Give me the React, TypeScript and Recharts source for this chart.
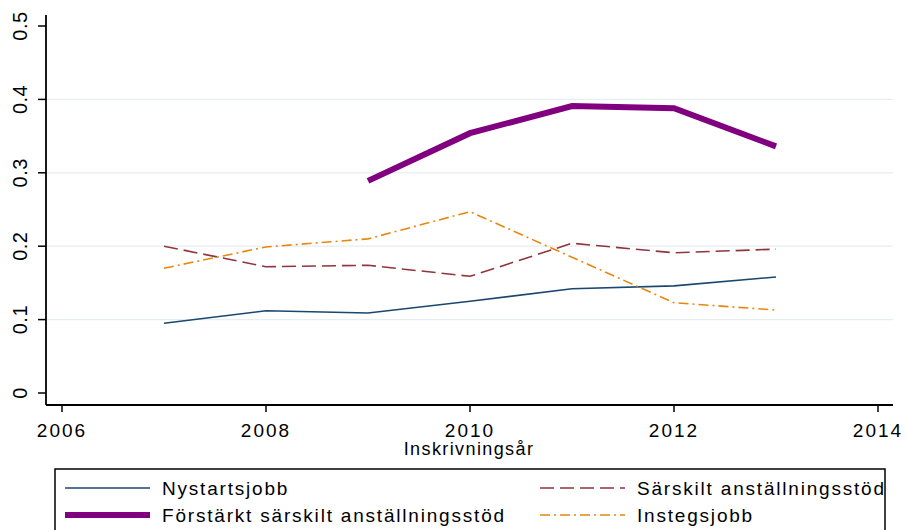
import { LineChart, Line, XAxis, YAxis, ReferenceLine } from 'recharts';

// values
const years = [2007, 2008, 2009, 2010, 2011, 2012, 2013];
const nystartsjobb = [0.095, 0.112, 0.109, 0.125, 0.142, 0.146, 0.158];
const sarskilt = [0.2, 0.172, 0.174, 0.159, 0.204, 0.191, 0.196];
const forstarkt = [null, null, 0.289, 0.354, 0.391, 0.388, 0.336];
const instegsjobb = [0.17, 0.199, 0.21, 0.247, 0.185, 0.123, 0.113];

const xTicks = [2006, 2008, 2010, 2012, 2014];
const yTicks = [0, 0.1, 0.2, 0.3, 0.4, 0.5];
const gridValues = [0.1, 0.2, 0.3, 0.4];

const series = [
  { key: 'nystartsjobb', name: 'Nystartsjobb', color: '#1a476f', width: 1.6, dash: undefined as string | undefined },
  { key: 'sarskilt', name: 'Särskilt anställningsstöd', color: '#90353b', width: 1.6, dash: '14 6' },
  { key: 'forstarkt', name: 'Förstärkt särskilt anställningsstöd', color: '#800080', width: 6, dash: undefined },
  { key: 'instegsjobb', name: 'Instegsjobb', color: '#e8870e', width: 1.6, dash: '10 4 2 4' },
];

const data = years.map((year, i) => ({
  year,
  nystartsjobb: nystartsjobb[i],
  sarskilt: sarskilt[i],
  forstarkt: forstarkt[i],
  instegsjobb: instegsjobb[i],
}));

const FONT = 'Arial, "Liberation Sans", sans-serif';

const YTick = (props: any) => {
  const { y, payload } = props;
  return (
    <text
      transform={`translate(20,${y}) rotate(-90)`}
      textAnchor="middle"
      dy="0.35em"
      fontSize={20}
      letterSpacing={0.5}
      fontFamily={FONT}
      fill="#000"
    >
      {payload.value}
    </text>
  );
};

const XTick = (props: any) => {
  const { x, payload } = props;
  return (
    <text x={x} y={437} textAnchor="middle" fontSize={19} letterSpacing={2} fontFamily={FONT} fill="#000">
      {payload.value}
    </text>
  );
};

const legendRows = [
  [series[0], series[1]],
  [series[2], series[3]],
];

export default function App() {
  return (
    <div style={{ position: 'absolute', left: 0, top: 0, width: 907, height: 530, background: '#fff', overflow: 'hidden' }}>
      <LineChart width={907} height={530} data={data} margin={{ top: 15, right: 14, bottom: 65, left: 0 }}>
        {gridValues.map((v) => (
          <ReferenceLine key={v} y={v} stroke="#e6eef1" strokeWidth={1.2} />
        ))}
        <XAxis
          xAxisId="top"
          orientation="top"
          type="number"
          dataKey="year"
          domain={[2006, 2014]}
          height={0}
          tick={false}
          tickLine={false}
          axisLine={{ stroke: '#e6eef1', strokeDasharray: '4 4' }}
        />
        <YAxis
          yAxisId="right"
          orientation="right"
          width={0}
          tick={false}
          tickLine={false}
          axisLine={{ stroke: '#e6eef1', strokeWidth: 1.5 }}
        />
        <XAxis
          type="number"
          dataKey="year"
          domain={[2006, 2014]}
          ticks={xTicks}
          padding={{ left: 16, right: 15 }}
          height={60}
          tick={<XTick />}
          tickSize={7}
          tickLine={{ stroke: '#000', strokeWidth: 1.5 }}
          axisLine={{ stroke: '#000', strokeWidth: 1.8 }}
          allowDecimals
        />
        <YAxis
          type="number"
          domain={[0, 0.5]}
          ticks={yTicks}
          padding={{ top: 11, bottom: 12 }}
          width={46}
          tick={<YTick />}
          tickSize={8}
          tickLine={{ stroke: '#000', strokeWidth: 1.5 }}
          axisLine={{ stroke: '#000', strokeWidth: 1.8 }}
        />
        {series.map((s) => (
          <Line
            key={s.key}
            dataKey={s.key}
            name={s.name}
            type="linear"
            stroke={s.color}
            strokeWidth={s.width}
            strokeDasharray={s.dash}
            strokeLinecap="butt"
            dot={false}
            activeDot={false}
            isAnimationActive={false}
          />
        ))}
      </LineChart>
      <svg width={907} height={530} style={{ position: 'absolute', left: 0, top: 0, pointerEvents: 'none' }}>
        <text x={469} y={455} textAnchor="middle" fontSize={18} letterSpacing={1.4} fontFamily={FONT} fill="#000">
          Inskrivningsår
        </text>
        <rect x={55} y={469} width={830} height={90} fill="none" stroke="#000" strokeWidth={1.5} />
        {legendRows.map((row, ri) =>
          row.map((s, ci) => {
            const lx = ci === 0 ? 65 : 540;
            const cy = ri === 0 ? 488 : 515;
            return (
              <g key={s.key}>
                <line x1={lx} x2={lx + 85} y1={cy} y2={cy} stroke={s.color} strokeWidth={s.width} strokeDasharray={s.dash} />
                <text x={lx + 97} y={cy} dy="0.35em" fontSize={19} letterSpacing={1.8} fontFamily={FONT} fill="#000">
                  {s.name}
                </text>
              </g>
            );
          })
        )}
      </svg>
    </div>
  );
}
